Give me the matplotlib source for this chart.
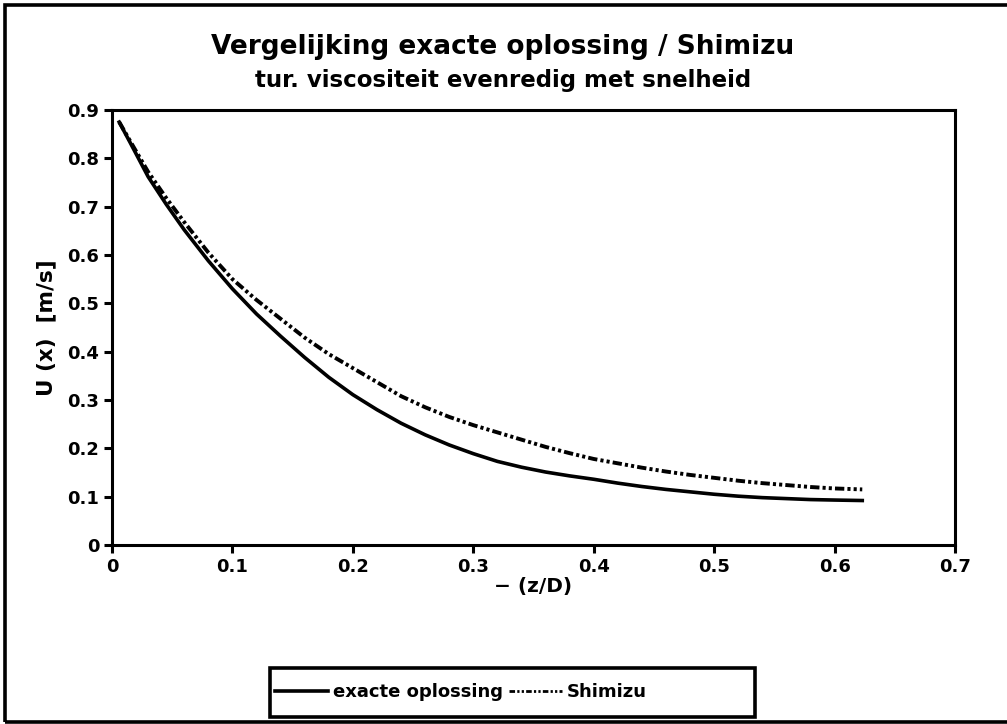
import matplotlib
matplotlib.use("Agg")
import matplotlib.pyplot as plt
from matplotlib.patches import Rectangle
from matplotlib.lines import Line2D

# Data
x_exact = [0.006, 0.015, 0.03, 0.045, 0.06, 0.08, 0.1, 0.12, 0.14, 0.16, 0.18,
           0.2, 0.22, 0.24, 0.26, 0.28, 0.30, 0.32, 0.34, 0.36, 0.38, 0.40,
           0.42, 0.44, 0.46, 0.48, 0.50, 0.52, 0.54, 0.56, 0.58, 0.60, 0.623]
u_exact = [0.875, 0.833, 0.762, 0.705, 0.652, 0.588, 0.530, 0.478, 0.432, 0.388,
           0.347, 0.311, 0.280, 0.252, 0.228, 0.207, 0.189, 0.173, 0.161, 0.151,
           0.143, 0.136, 0.128, 0.121, 0.115, 0.110, 0.105, 0.101, 0.098, 0.096,
           0.094, 0.093, 0.092]
x_shim = [0.006, 0.015, 0.03, 0.045, 0.06, 0.08, 0.1, 0.12, 0.14, 0.16, 0.18,
          0.2, 0.22, 0.24, 0.26, 0.28, 0.30, 0.32, 0.34, 0.36, 0.38, 0.40,
          0.42, 0.44, 0.46, 0.48, 0.50, 0.52, 0.54, 0.56, 0.58, 0.60, 0.623]
u_shim = [0.875, 0.836, 0.772, 0.718, 0.668, 0.605, 0.550, 0.507, 0.468, 0.429,
          0.395, 0.366, 0.337, 0.308, 0.285, 0.265, 0.248, 0.233, 0.218, 0.203,
          0.190, 0.178, 0.169, 0.160, 0.152, 0.145, 0.139, 0.133, 0.128, 0.124,
          0.120, 0.117, 0.115]

xticks = [0, 0.1, 0.2, 0.3, 0.4, 0.5, 0.6, 0.7]
xticklabels = ["0", "0.1", "0.2", "0.3", "0.4", "0.5", "0.6", "0.7"]
yticks = [0, 0.1, 0.2, 0.3, 0.4, 0.5, 0.6, 0.7, 0.8, 0.9]
yticklabels = ["0", "0.1", "0.2", "0.3", "0.4", "0.5", "0.6", "0.7", "0.8", "0.9"]

title = "Vergelijking exacte oplossing / Shimizu"
subtitle = "tur. viscositeit evenredig met snelheid"
xlabel = "\u2212 (z/D)"
ylabel = "U (x)  [m/s]"
labels = ["exacte oplossing", "Shimizu"]

FAM = ["DejaVu Sans"]
plt.rcParams["font.family"] = FAM
plt.rcParams["font.weight"] = "bold"

fig = plt.figure(figsize=(10.07, 7.24), dpi=100)
ax = fig.add_axes([112/1007, 1-545/724, (955-112)/1007, (545-110)/724])

ax.plot(x_exact, u_exact, color="black", lw=2.6, solid_joinstyle="round")
ax.plot(x_shim, u_shim, color="black", lw=2.8,
        linestyle=(0, (2.4, 0.8, 0.8, 0.8, 0.8, 0.8)))

ax.set_xlim(0, 0.7)
ax.set_ylim(0, 0.9)
ax.set_xticks(xticks)
ax.set_xticklabels(xticklabels)
ax.set_yticks(yticks)
ax.set_yticklabels(yticklabels)
for s in ax.spines.values():
    s.set_linewidth(2.2)
ax.tick_params(direction="out", length=6, width=2.2, labelsize=13, pad=3)
for lab in ax.get_xticklabels() + ax.get_yticklabels():
    lab.set_fontweight("heavy")

ax.set_xlabel(xlabel, fontsize=14.5, fontweight="heavy", labelpad=1)
ax.set_ylabel(ylabel, fontsize=15.5, fontweight="heavy", labelpad=8)

fig.text(503/1007, 1-47/724, title, ha="center", va="center",
         fontsize=19, fontweight="heavy")
fig.text(503/1007, 1-80/724, subtitle, ha="center", va="center",
         fontsize=16.5, fontweight="heavy")

# outer frame (left, top, bottom visible)
fig.add_artist(Rectangle((5/1007, 1-722/724), 1.2, (722-5)/724,
                         transform=fig.transFigure, fill=False,
                         edgecolor="black", lw=2.6, clip_on=False))
# legend box
fig.add_artist(Rectangle((270/1007, 1-717/724), (755-270)/1007, (717-668)/724,
                         transform=fig.transFigure, fill=False,
                         edgecolor="black", lw=2.6))
handles = [Line2D([], [], color="black", lw=2.6),
           Line2D([], [], color="black", lw=2.0,
                  linestyle=(0, (2.0, 0.8, 0.8, 0.8, 0.8, 0.8)))]
leg = fig.legend(handles, labels, loc="center left",
                 bbox_to_anchor=(259/1007, 1-692/724), ncol=2, frameon=False,
                 handlelength=2.9, handletextpad=0.3, columnspacing=0.35,
                 prop={"size": 13, "weight": "heavy"})

fig.savefig("out.png", dpi=100)
